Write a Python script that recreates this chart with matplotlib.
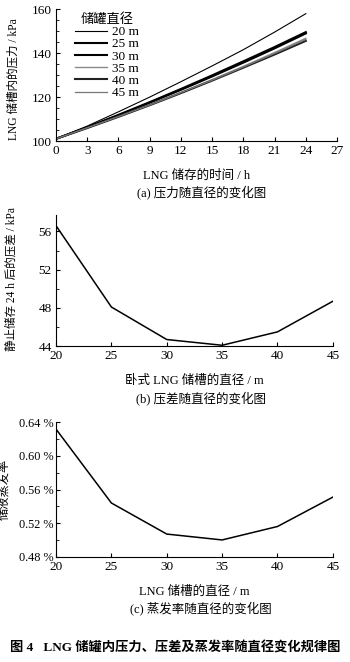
import numpy as np
import matplotlib
matplotlib.use("Agg")
from matplotlib import pyplot as plt
from matplotlib.ticker import MultipleLocator, FuncFormatter

plt.rcParams['font.family'] = ['Liberation Serif', 'Noto Sans CJK SC', 'DejaVu Sans']
plt.rcParams['font.size'] = 9.5

# (a) pressure vs storage time for each diameter
hours = [0, 3, 6, 9, 12, 15, 18, 21, 24]
diam_labels = ['20 m', '25 m', '30 m', '35 m', '40 m', '45 m']
p20 = [101, 106.8, 113.3, 120.0, 127.0, 134.2, 141.6, 149.6, 158.0]
p25 = [101, 106.3, 111.9, 117.7, 123.7, 129.9, 136.3, 142.8, 149.6]
p30 = [101, 106.2, 111.7, 117.4, 123.3, 129.4, 135.7, 142.2, 149.0]
p35 = [101, 106.0, 111.2, 116.6, 122.2, 128.0, 134.0, 140.3, 146.8]
p40 = [101, 105.9, 111.0, 116.3, 121.8, 127.5, 133.4, 139.4, 145.6]
p45 = [101, 106.0, 111.1, 116.4, 122.0, 127.7, 133.7, 139.9, 146.3]

# (b) pressure difference after 24 h, (c) boil-off rate
diameters = [20, 25, 30, 35, 40, 45]
dp = [56.6, 48.1, 44.7, 44.1, 45.5, 48.7]
bor = [0.632, 0.544, 0.507, 0.500, 0.516, 0.551]

fs = 9.5
fl = 8.3
fig = plt.figure(figsize=(3.5, 6.62), dpi=100)

def style(ax):
	ax.spines['top'].set_visible(False)
	ax.spines['right'].set_visible(False)
	ax.tick_params(direction='in', length=3, width=0.8, pad=3)
	ax.tick_params(which='minor', direction='in', length=2, width=0.6)
	ax.tick_params(axis='both', labelsize=fs)

ax1 = fig.add_axes([0.16, 0.787, 0.803, 0.199])
styles = [('black', 0.8), ('black', 1.5), ('black', 1.5), ('#8a8a8a', 1.0), ('#222222', 1.5), ('#777777', 0.9)]
for p, lab, (c, w) in zip([p20, p25, p30, p35, p40, p45], diam_labels, styles):
	ax1.plot(hours, p, color=c, lw=w, label=lab)
ax1.set_xlim(0, 27)
ax1.set_ylim(100, 160)
ax1.xaxis.set_major_locator(MultipleLocator(3))
ax1.yaxis.set_major_locator(MultipleLocator(20))
ax1.yaxis.set_minor_locator(MultipleLocator(5))
style(ax1)
ax1.set_ylabel('LNG 储槽内的压力 / kPa', fontsize=fl)
ax1.yaxis.set_label_coords(-0.128, 0.47)
ax1.set_xlabel('LNG 储存的时间 / h', fontsize=9, labelpad=9)
leg = ax1.legend(title='储罐直径', frameon=False, loc='upper left', bbox_to_anchor=(0.04, 1.03),
	fontsize=fs, title_fontsize=fs, handlelength=2.4, handletextpad=0.4, labelspacing=0.0,
	borderaxespad=0.2)
fig.text(0.575, 0.703, '(a) 压力随直径的变化图', ha='center', fontsize=9)

ax2 = fig.add_axes([0.16, 0.477, 0.791, 0.198])
ax2.plot(diameters, dp, color='black', lw=1.1)
ax2.set_xlim(20, 45)
ax2.set_ylim(44, 57.7)
ax2.xaxis.set_major_locator(MultipleLocator(5))
ax2.yaxis.set_major_locator(MultipleLocator(4))
ax2.yaxis.set_minor_locator(MultipleLocator(2))
style(ax2)
ax2.set_ylabel('静止储存 24 h 后的压差 / kPa', fontsize=fl)
ax2.yaxis.set_label_coords(-0.14, 0.51)
ax2.set_xlabel('卧式 LNG 储槽的直径 / m', fontsize=9, labelpad=9)
fig.text(0.575, 0.393, '(b) 压差随直径的变化图', ha='center', fontsize=9)

ax3 = fig.add_axes([0.16, 0.159, 0.791, 0.203])
ax3.plot(diameters, bor, color='black', lw=1.1)
ax3.set_xlim(20, 45)
ax3.set_ylim(0.48, 0.64)
ax3.xaxis.set_major_locator(MultipleLocator(5))
ax3.yaxis.set_major_locator(MultipleLocator(0.04))
ax3.yaxis.set_minor_locator(MultipleLocator(0.02))
ax3.yaxis.set_major_formatter(FuncFormatter(lambda v, pos: '%.2f %%' % v))
style(ax3)
ax3.tick_params(axis='y', labelsize=8.8, pad=2)
ax3.set_ylabel('储液蒸发率', fontsize=8.8)
ax3.yaxis.set_label_coords(-0.163, 0.5)
ax3.set_xlabel('LNG 储槽的直径 / m', fontsize=9, labelpad=9)
fig.text(0.575, 0.075, '(c) 蒸发率随直径的变化图', ha='center', fontsize=9)

fig.text(0.5, 0.016, '图 4   LNG 储罐内压力、压差及蒸发率随直径变化规律图', ha='center',
	fontsize=fs, fontweight='bold')

fig.savefig('out.png', dpi=100)
